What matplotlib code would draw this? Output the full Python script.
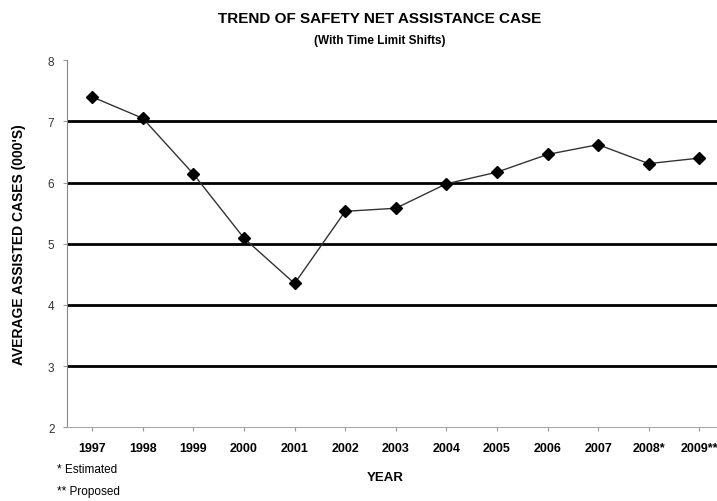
import numpy as np
import matplotlib
matplotlib.use("Agg")
import matplotlib.pyplot as plt

plt.rcParams["font.family"] = ["Liberation Sans", "DejaVu Sans"]

# Data.
years = ["1997", "1998", "1999", "2000", "2001", "2002", "2003", "2004",
    "2005", "2006", "2007", "2008*", "2009**"]
cases = [7.40, 7.05, 6.14, 5.09, 4.35, 5.53, 5.58, 5.98, 6.17, 6.46, 6.62,
    6.31, 6.40]
grid_levels = [3, 4, 5, 6, 7]
y_ticks = [2, 3, 4, 5, 6, 7, 8]

fig = plt.figure(figsize=(7.17, 5.02), dpi=100)
ax = fig.add_axes([0.0934, 0.147, 0.9066, 0.731])

x = np.arange(len(years))

# Horizontal reference lines.
for level in grid_levels:
    ax.axhline(level, color="black", linewidth=2.0, zorder=1)

ax.plot(x, cases, color="#333333", linewidth=1.0, marker="D",
    markersize=6, markerfacecolor="black", markeredgecolor="black", zorder=3)

ax.set_xlim(-0.5, 12.35)
ax.set_ylim(2, 8)
ax.set_yticks(y_ticks)
ax.set_yticklabels([str(t) for t in y_ticks], fontsize=8.5, color="#333333")
ax.set_xticks(x)
ax.set_xticklabels(years, fontsize=9, fontweight="bold")
ax.tick_params(axis="x", length=3, color="#999999", pad=8)
ax.tick_params(axis="y", length=3, color="#999999", pad=6)

for side in ["top", "right"]:
    ax.spines[side].set_visible(False)
ax.spines["left"].set_color("#888888")
ax.spines["bottom"].set_color("#aaaaaa")

ax.set_ylabel("AVERAGE ASSISTED CASES (000'S)", fontsize=10,
    fontweight="bold", labelpad=16)

fig.text(0.53, 0.963, "TREND OF SAFETY NET ASSISTANCE CASE", ha="center",
    va="center", fontsize=11, fontweight="bold")
fig.text(0.53, 0.918, "(With Time Limit Shifts)", ha="center", va="center",
    fontsize=8.5, fontweight="bold")
fig.text(0.537, 0.048, "YEAR", ha="center", va="center", fontsize=9.5,
    fontweight="bold")
fig.text(0.08, 0.063, "* Estimated", ha="left", va="center", fontsize=8.5)
fig.text(0.08, 0.02, "** Proposed", ha="left", va="center", fontsize=8.5)

fig.savefig("out.png", dpi=100)
